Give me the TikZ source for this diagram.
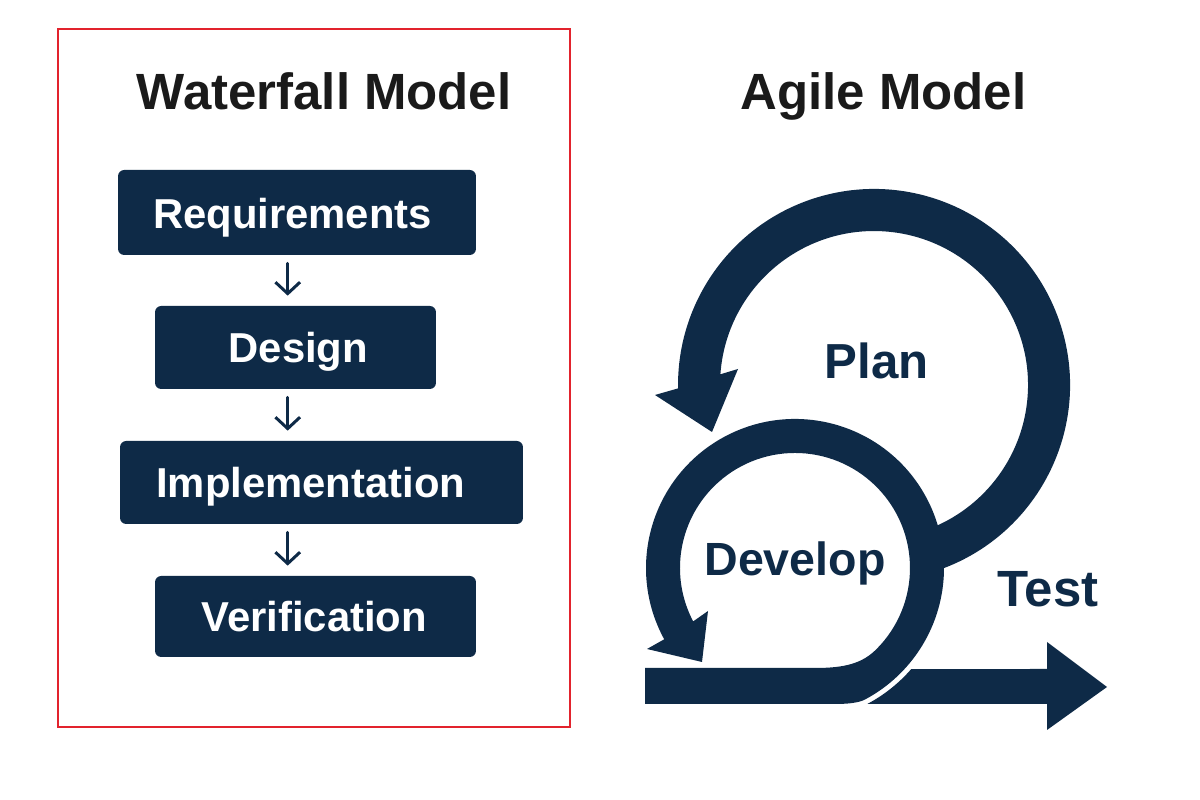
\documentclass[tikz,border=0pt]{standalone}
\usepackage{fontspec}
\setmainfont{Liberation Sans}
\usetikzlibrary{arrows.meta}
\definecolor{navy}{RGB}{14,42,71}
\definecolor{titlec}{RGB}{26,26,26}
\definecolor{framered}{RGB}{226,35,45}
\begin{document}
\begin{tikzpicture}[x=0.02cm,y=0.02cm,
  wbox/.style={fill=navy, rounded corners=3.5pt, inner sep=0pt, draw=none},
  wtext/.style={text=white, font=\fontsize{23.8}{28}\selectfont\bfseries, anchor=base, inner sep=0pt},
  titletext/.style={text=titlec, font=\fontsize{29}{34}\selectfont\bfseries, anchor=base, inner sep=0pt},
  alabel/.style={text=navy, anchor=base, inner sep=0pt},
  flow/.style={navy, line width=1.7pt, line cap=round, line join=round,
    -{Straight Barb[length=6.5pt,width=14pt]}, shorten <=0.16cm, shorten >=0.2cm},
  agileshape/.style={fill=navy, draw=none}
]
\useasboundingbox (0,0) rectangle (1200,800);
\fill[white] (0,0) rectangle (1200,800);

% frame
\draw[framered, line width=1.6pt] (58,73) rectangle (570,771);

% titles
\node[titletext] (wtitle) at (324.2,690.7) {Waterfall Model};
\node[titletext] (atitle) at (883.3,690.7) {Agile Model};

% waterfall boxes
\node[wbox, minimum width=7.16cm, minimum height=1.7cm] (req) at (297,587.5) {};
\node[wbox, minimum width=5.62cm, minimum height=1.66cm] (des) at (295.5,452.5) {};
\node[wbox, minimum width=8.06cm, minimum height=1.66cm] (imp) at (321.5,317.5) {};
\node[wbox, minimum width=6.42cm, minimum height=1.62cm] (ver) at (315.5,183.5) {};

\node[wtext] (reqt) at (292.5,571.7) {Requirements};
\node[wtext] (dest) at (298.3,437.3) {Design};
\node[wtext] (impt) at (310.8,302.7) {Implementation};
\node[wtext] (vert) at (314.2,168.3) {Verification};

\coordinate (ax) at (287.7,0);
\draw[flow] (req.south -| ax) -- (des.north -| ax);
\draw[flow] (des.south -| ax) -- (imp.north -| ax);
\draw[flow] (imp.south -| ax) -- (ver.north -| ax);

% agile: plan ring
\fill[agileshape] (934.6,228.6) arc[start angle=-72, end angle=181, radius=196]
  -- (655,405) -- (712,368) -- (738,431) -- (720.4,425.7)
  arc[start angle=176, end angle=-72, radius=154] -- cycle;

% develop ring with bottom bar
\fill[agileshape] (645,96) -- (645,132) -- (815,132)
  .. controls (845,132) and (862.2,136.6) .. (876.3,150.7)
  arc[start angle=-45, end angle=207.7, radius=115]
  -- (708,189) -- (702,138) -- (647,151) -- (664.2,160.7)
  arc[start angle=208.6, end angle=-62, radius=149]
  .. controls (857.9,96.7) and (845,96) .. (835,96) -- cycle;

% test arrow
\fill[agileshape] (867.3,96) arc[start angle=-62, end angle=-41, radius=154]
  -- (1047,131) -- (1047,158) -- (1107,113) -- (1047,70) -- (1047,96) -- cycle;

% agile labels
\node[alabel, font=\fontsize{28}{32}\selectfont\bfseries] (plan) at (876.7,421.7) {Plan};
\node[alabel, font=\fontsize{26.5}{30}\selectfont\bfseries] (develop) at (795,224) {Develop};
\node[alabel, font=\fontsize{29}{33}\selectfont\bfseries] (test) at (1048,193.3) {Test};
\end{tikzpicture}
\end{document}
